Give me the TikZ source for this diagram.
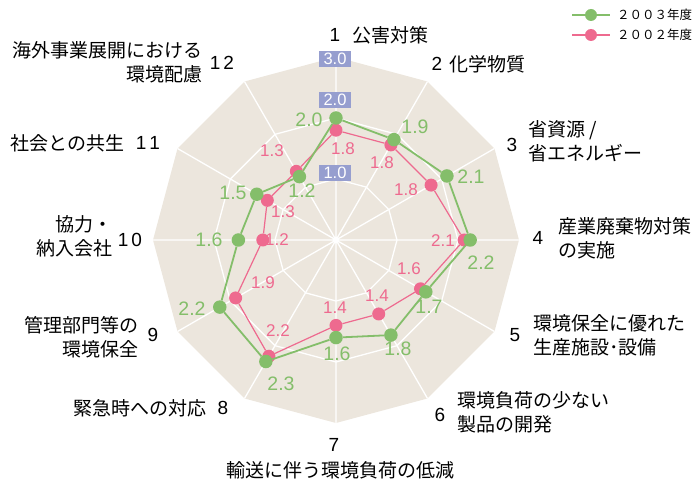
\documentclass[tikz,border=0pt]{standalone}
\usepackage{fontspec}
\setmainfont{Liberation Sans}
\newfontfamily\jafont{Noto Sans CJK JP}
\definecolor{chartbg}{HTML}{ECE6DD}
\definecolor{green03}{HTML}{84BE6A}
\definecolor{pink02}{HTML}{EE6A8F}
\definecolor{scalebox}{HTML}{969ECF}

\begin{document}
\begin{tikzpicture}[x=1pt,y=1pt,
    gridline/.style={white,line width=1.3pt},
    gdot/.style={circle,fill=green03,inner sep=0pt,minimum size=13.5pt},
    pdot/.style={circle,fill=pink02,inner sep=0pt,minimum size=13pt},
    gline/.style={green03,line width=1.8pt},
    pline/.style={pink02,line width=1.2pt},
    gval/.style={text=green03,font=\fontsize{19.5}{18}\selectfont,inner sep=0pt},
    pval/.style={text=pink02,font=\fontsize{17}{16}\selectfont,inner sep=0pt},
    scalelbl/.style={fill=scalebox,text=white,font=\fontsize{16.5}{16}\selectfont,
      minimum width=32pt,minimum height=16pt,inner sep=0pt},
    axnum/.style={font=\fontsize{19}{24}\selectfont,inner sep=0pt},
    axtext/.style={font=\jafont\fontsize{19}{24}\selectfont,inner sep=0pt},
    legtext/.style={font=\jafont\fontsize{12.5}{14}\selectfont,inner sep=0pt,anchor=west}]
  \useasboundingbox (-336,-242) rectangle (361,240);

  % chart grid
  \begin{scope}[x=61pt,y=61pt]
    \fill[chartbg] (90:3) -- (60:3) -- (30:3) -- (0:3) -- (-30:3) -- (-60:3)
      -- (-90:3) -- (-120:3) -- (-150:3) -- (180:3) -- (150:3) -- (120:3) -- cycle;
    \draw[gridline] (90:1) -- (60:1) -- (30:1) -- (0:1) -- (-30:1) -- (-60:1)
      -- (-90:1) -- (-120:1) -- (-150:1) -- (180:1) -- (150:1) -- (120:1) -- cycle;
    \draw[gridline] (90:2) -- (60:2) -- (30:2) -- (0:2) -- (-30:2) -- (-60:2)
      -- (-90:2) -- (-120:2) -- (-150:2) -- (180:2) -- (150:2) -- (120:2) -- cycle;
    \draw[gridline]
      (0,0) -- (90:3) (0,0) -- (60:3) (0,0) -- (30:3) (0,0) -- (0:3)
      (0,0) -- (-30:3) (0,0) -- (-60:3) (0,0) -- (-90:3) (0,0) -- (-120:3)
      (0,0) -- (-150:3) (0,0) -- (180:3) (0,0) -- (150:3) (0,0) -- (120:3);

    % 2002
    \draw
      (90:1.8) node[pdot] (p1){}
      (60:1.8) node[pdot] (p2){}
      (30:1.8) node[pdot] (p3){}
      (0:2.1) node[pdot] (p4){}
      (-30:1.6) node[pdot] (p5){}
      (-60:1.4) node[pdot] (p6){}
      (-90:1.4) node[pdot] (p7){}
      (-120:2.2) node[pdot] (p8){}
      (-150:1.9) node[pdot] (p9){}
      (180:1.2) node[pdot] (p10){}
      (150:1.3) node[pdot] (p11){}
      (120:1.3) node[pdot] (p12){};
    \draw[pline] (p1) -- (p2) -- (p3) -- (p4) -- (p5) -- (p6) -- (p7)
      -- (p8) -- (p9) -- (p10) -- (p11) -- (p12) -- (p1);

    % 2003
    \draw
      (90:2.0) node[gdot] (g1){}
      (60:1.9) node[gdot] (g2){}
      (30:2.1) node[gdot] (g3){}
      (0:2.2) node[gdot] (g4){}
      (-30:1.7) node[gdot] (g5){}
      (-60:1.8) node[gdot] (g6){}
      (-90:1.6) node[gdot] (g7){}
      (-120:2.3) node[gdot] (g8){}
      (-150:2.2) node[gdot] (g9){}
      (180:1.6) node[gdot] (g10){}
      (150:1.5) node[gdot] (g11){}
      (120:1.2) node[gdot] (g12){};
    \draw[gline] (g1) -- (g2) -- (g3) -- (g4) -- (g5) -- (g6) -- (g7)
      -- (g8) -- (g9) -- (g10) -- (g11) -- (g12) -- (g1);
  \end{scope}

  % scale
  \node[scalelbl] (s3) at (-1,181) {3.0};
  \node[scalelbl] (s2) at (-1,140) {2.0};
  \node[scalelbl] (s1) at (-1,67) {1.0};

  % values
  \node[pval] (p1v) at (7,91) {1.8};
  \node[pval] (p2v) at (46,77) {1.8};
  \node[pval] (p3v) at (70,50) {1.8};
  \node[pval] (p4v) at (107,-1) {2.1};
  \node[pval] (p5v) at (73,-29) {1.6};
  \node[pval] (p6v) at (41,-56) {1.4};
  \node[pval] (p7v) at (-1,-68) {1.4};
  \node[pval] (p8v) at (-58,-91) {2.2};
  \node[pval] (p9v) at (-73,-43) {1.9};
  \node[pval] (p10v) at (-59,0) {1.2};
  \node[pval] (p11v) at (-53,28) {1.3};
  \node[pval] (p12v) at (-64,89) {1.3};

  \node[gval] (g1v) at (-27,120) {2.0};
  \node[gval] (g2v) at (79,113) {1.9};
  \node[gval] (g3v) at (135,63) {2.1};
  \node[gval] (g4v) at (145,-23) {2.2};
  \node[gval] (g5v) at (93,-67) {1.7};
  \node[gval] (g6v) at (62,-109) {1.8};
  \node[gval] (g7v) at (1,-114) {1.6};
  \node[gval] (g8v) at (-55,-144) {2.3};
  \node[gval] (g9v) at (-144,-69) {2.2};
  \node[gval] (g10v) at (-127,0) {1.6};
  \node[gval] (g11v) at (-103,47) {1.5};
  \node[gval] (g12v) at (-34,49) {1.2};

  % axis labels
  \node[axnum] (n1) at (-1,205) {1};
  \node[axtext,anchor=west] (t1) at (16,205) {公害対策};
  \node[axnum] (n2) at (101,176) {2};
  \node[axtext,anchor=west] (t2) at (113,176) {化学物質};
  \node[axnum] (n3) at (176,95) {3};
  \node[axtext,anchor=west,align=left] (t3) at (192,99) {省資源 /\\省エネルギー};
  \node[axnum] (n4) at (202,2) {4};
  \node[axtext,anchor=west,align=left] (t4) at (222,2) {産業廃棄物対策\\の実施};
  \node[axnum] (n5) at (179,-95) {5};
  \node[axtext,anchor=west,align=left] (t5) at (197,-95) {環境保全に優れた\\生産施設･設備};
  \node[axnum] (n6) at (104,-175) {6};
  \node[axtext,anchor=west,align=left] (t6) at (121,-172) {環境負荷の少ない\\製品の開発};
  \node[axnum] (n7) at (-2,-205) {7};
  \node[axtext] (t7) at (5,-230) {輸送に伴う環境負荷の低減};
  \node[axnum] (n8) at (-113,-168) {8};
  \node[axtext,anchor=east] (t8) at (-129,-168) {緊急時への対応};
  \node[axnum] (n9) at (-183,-95) {9};
  \node[axtext,anchor=east,align=right] (t9) at (-197,-97) {管理部門等の\\環境保全};
  \node[axnum] (n10) at (-206,0) {1\kern3pt0};
  \node[axtext,anchor=east,align=right] (t10) at (-223,4) {協力・\\納入会社};
  \node[axnum] (n11) at (-188,97) {1\kern3pt1};
  \node[axtext,anchor=east] (t11) at (-211,97) {社会との共生};
  \node[axnum] (n12) at (-114,177) {1\kern3pt2};
  \node[axtext,anchor=east,align=right] (t12) at (-133,178) {海外事業展開における\\環境配慮};

  % legend
  \coordinate (lg1) at (236,225);
  \coordinate (lg2) at (274,225);
  \coordinate (lp1) at (236,205);
  \coordinate (lp2) at (274,205);
  \draw[gline,line width=1.3pt] (lg1) -- (lg2);
  \node[gdot,minimum size=12pt] (lgdot) at (255,225) {};
  \node[legtext] (lgtext) at (281,225) {２００３年度};
  \draw[pline] (lp1) -- (lp2);
  \node[pdot,minimum size=12pt] (lpdot) at (255,205) {};
  \node[legtext] (lptext) at (281,205) {２００２年度};
\end{tikzpicture}
\end{document}
